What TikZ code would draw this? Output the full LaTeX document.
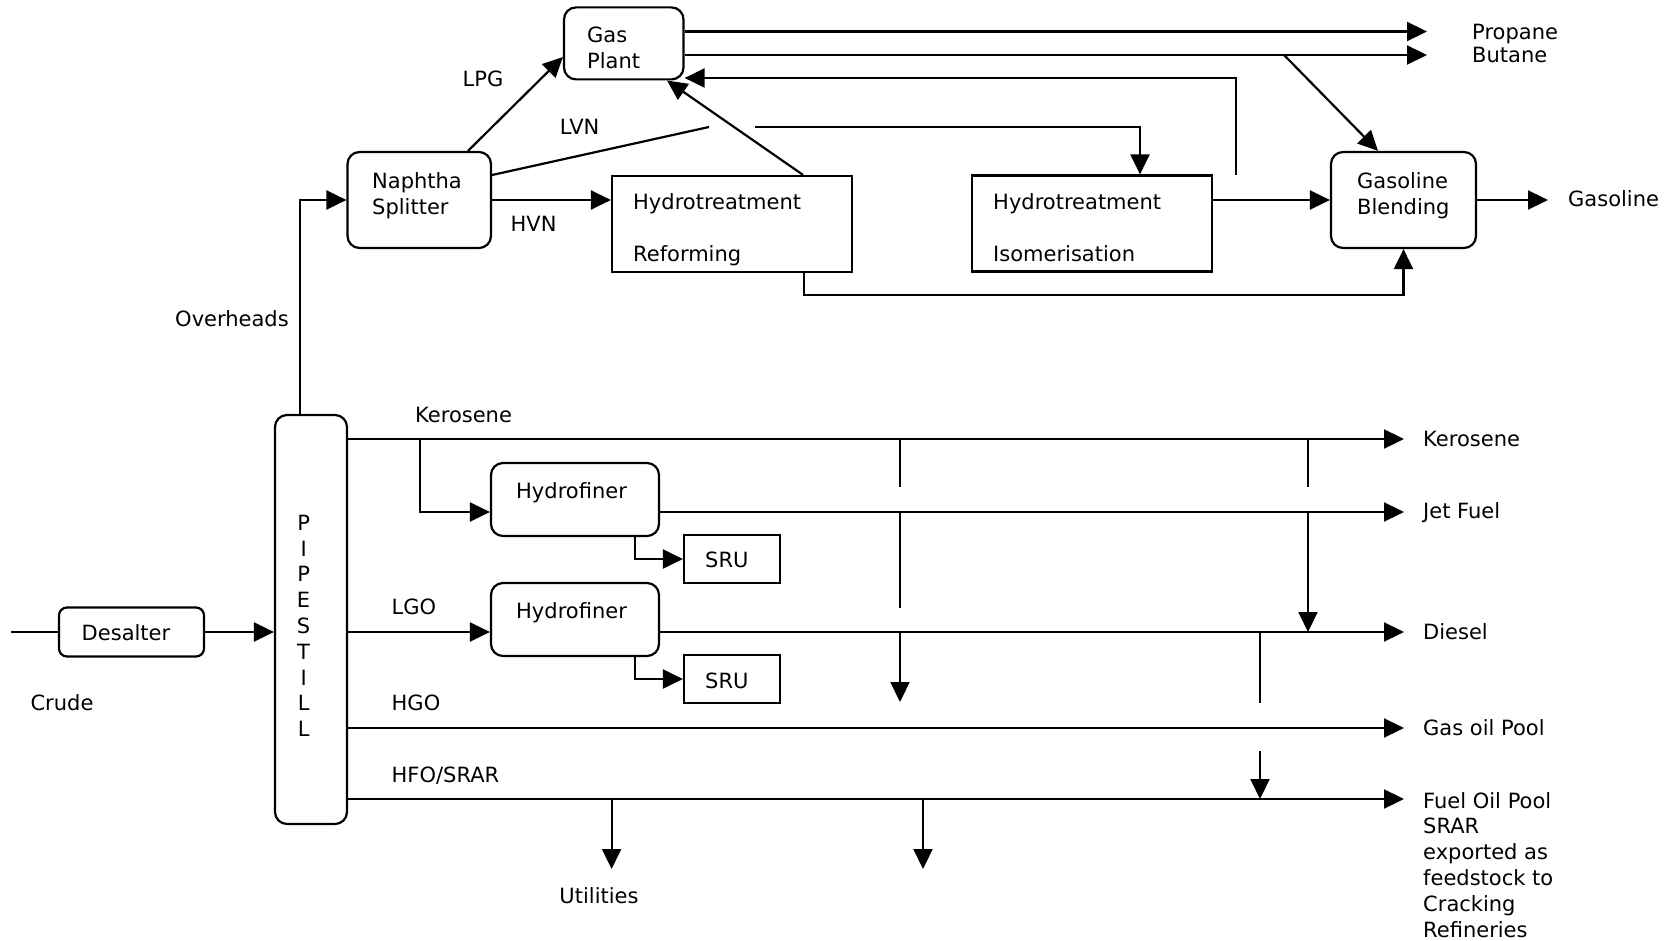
\documentclass[tikz,border=0pt]{standalone}
\usepackage{fontspec}
\setmainfont{DejaVu Sans}
\usetikzlibrary{arrows.meta}
\tikzset{
  ln/.style={line width=2.2pt},
  arr/.style={line width=2.2pt, -{Triangle[length=20pt,width=19pt]}},
  rbox/.style={draw, line width=2.2pt, rounded corners=12pt, inner sep=0pt},
  sbox/.style={draw, line width=2.2pt, inner sep=0pt},
  txt/.style={inner sep=0pt, font=\fontsize{21}{26}\selectfont},
  mtxt/.style={txt, align=left, anchor=north west},
}
\begin{document}
\begin{tikzpicture}[x=1pt,y=-1pt]
\useasboundingbox (0,0) rectangle (1668,941);
\path[fill=white] (0,0) rectangle (1668,941);

% ---------- boxes ----------
\node[rbox, minimum width=119.5pt, minimum height=72pt] (gasplant) at (623.75,43.4) {};
\node[rbox, minimum width=143.5pt, minimum height=96pt] (naphtha) at (419.25,200) {};
\node[sbox, minimum width=240pt, minimum height=96pt] (reform) at (732,224) {};
\node[sbox, minimum width=240pt, minimum height=96pt] (isom) at (1092,223.5) {};
\node[rbox, minimum width=145pt, minimum height=96pt] (gasblend) at (1403.5,200) {};
\node[rbox, minimum width=72pt, minimum height=409pt] (pipestill) at (311,619.5) {};
\node[rbox, rounded corners=8pt, minimum width=145pt, minimum height=49pt] (desalter) at (131.5,632) {};
\node[rbox, minimum width=168pt, minimum height=73pt] (hf1) at (575,499.5) {};
\node[rbox, minimum width=168pt, minimum height=73pt] (hf2) at (575,619.5) {};
\node[sbox, minimum width=96pt, minimum height=48pt] (sru1) at (732,559) {};
\node[sbox, minimum width=96pt, minimum height=48pt] (sru2) at (732,679) {};

% ---------- box texts ----------
\node[mtxt] (gasplanttxt) at (587,27) {Gas\\Plant};
\node[mtxt] (naphthatxt) at (372,172) {Naphtha\\Splitter};
\node[mtxt] (reformtxt) at (633,193) {Hydrotreatment\\[26pt]Reforming};
\node[mtxt] (isomtxt) at (993,193) {Hydrotreatment\\[26pt]Isomerisation};
\node[mtxt] (gasblendtxt) at (1357,172) {Gasoline\\Blending};
\node[txt, align=center, anchor=north, font=\fontsize{21}{25.8}\selectfont] (pipestilltxt) at (303.6,514.7) {P\\I\\P\\E\\S\\T\\I\\L\\L};
\node[txt, anchor=base] (desaltertxt) at (126,640.5) {Desalter};
\node[txt, anchor=base west] (hf1txt) at (516,498.5) {Hydrofiner};
\node[txt, anchor=base west] (hf2txt) at (516,618.5) {Hydrofiner};
\node[txt, anchor=base west] (sru1txt) at (705,567.5) {SRU};
\node[txt, anchor=base west] (sru2txt) at (705,688.5) {SRU};

% ---------- stream labels ----------
\node[txt, anchor=base] (lpg) at (483,86.5) {LPG};
\node[txt, anchor=base] (lvn) at (579.6,134.5) {LVN};
\node[txt, anchor=base] (hvn) at (533.6,231.5) {HVN};
\node[txt, anchor=base] (overheads) at (232,326.5) {Overheads};
\node[txt, anchor=base west] (kerlab) at (415,422.5) {Kerosene};
\node[txt, anchor=base west] (lgolab) at (391.5,614.5) {LGO};
\node[txt, anchor=base west] (hgolab) at (391.5,710.5) {HGO};
\node[txt, anchor=base west] (hfolab) at (391.5,782.5) {HFO/SRAR};
\node[txt, anchor=base] (crude) at (62,710.5) {Crude};
\node[txt, anchor=base] (utilities) at (599,903.5) {Utilities};
\node[txt, anchor=base west] (propane) at (1472,39.5) {Propane};
\node[txt, anchor=base west] (butane) at (1472,62.5) {Butane};
\node[txt, anchor=base west] (gasoline) at (1568,206.5) {Gasoline};
\node[txt, anchor=base west] (kerout) at (1423,446.5) {Kerosene};
\node[txt, anchor=base west] (jetout) at (1423,518.5) {Jet Fuel};
\node[txt, anchor=base west] (dieout) at (1423,639.5) {Diesel};
\node[txt, anchor=base west] (goout) at (1423,735.5) {Gas oil Pool};
\node[mtxt, font=\fontsize{21}{25.8}\selectfont] (foout) at (1423,792) {Fuel Oil Pool\\SRAR\\exported as\\feedstock to\\Cracking\\Refineries};

% ---------- coordinates ----------
\coordinate (crudeStart) at (11,632);
\coordinate (ohx) at (300,200);
\coordinate (lvnA) at (709,127);
\coordinate (lvnB) at (755,127);
\coordinate (rb) at (804,295);
\coordinate (ret) at (1236,175);
\coordinate (propEnd) at (1427,31.5);
\coordinate (butEnd) at (1427,55);
\coordinate (bb) at (1284,55);
\coordinate (gasEnd) at (1548,200);
\coordinate (kerEnd) at (1404,439);
\coordinate (kb) at (420,439);
\coordinate (jetEnd) at (1404,512);
\coordinate (dieEnd) at (1404,632);
\coordinate (goEnd) at (1404,728);
\coordinate (foEnd) at (1404,799);
\coordinate (va1) at (900,439); \coordinate (va2) at (900,487);
\coordinate (va3) at (900,512); \coordinate (va4) at (900,608);
\coordinate (va5) at (900,632); \coordinate (va6) at (900,702);
\coordinate (vb1) at (1308,439); \coordinate (vb2) at (1308,487);
\coordinate (vb3) at (1308,512); \coordinate (vb4) at (1308,632);
\coordinate (vc1) at (1260,632); \coordinate (vc2) at (1260,703);
\coordinate (vc3) at (1260,751); \coordinate (vc4) at (1260,799);
\coordinate (vu1) at (611.6,799); \coordinate (vu2) at (611.6,869);
\coordinate (vd1) at (923,799); \coordinate (vd2) at (923,869);

% ---------- connectors: upper ----------
\draw[ln] (crudeStart) -- (desalter.west);
\draw[arr] (desalter.east) -- (desalter.east -| pipestill.west);
\draw[arr] (pipestill.north -| ohx) |- (naphtha.west);
\draw[arr] (naphtha.north -| 468,0) -- (gasplant.west |- 0,57);
\draw[ln] (naphtha.east |- 0,175) -- (lvnA);
\draw[arr] (lvnB) -| (isom.north -| 1140,0);
\draw[arr] (naphtha.east) -- (naphtha.east -| reform.west);
\draw[arr] (reform.north -| 803,0) -- (gasplant.south -| 667,0);
\draw[arr] (reform.south -| rb) -- (rb) -| (gasblend.south);
\draw[arr] (isom.east |- gasblend.west) -- (gasblend.west);
\draw[arr] (ret) |- (gasplant.east |- 0,78);
\draw[arr] (gasplant.east |- propEnd) -- (propEnd);
\draw[arr] (gasplant.east |- butEnd) -- (butEnd);
\draw[arr] (bb) -- (gasblend.north -| 1378,0);
\draw[arr] (gasblend.east) -- (gasEnd);

% ---------- connectors: lower ----------
\draw[arr] (pipestill.east |- kerEnd) -- (kerEnd);
\draw[arr] (kb) |- (hf1.west |- jetEnd);
\draw[arr] (hf1.east |- jetEnd) -- (jetEnd);
\draw[arr] (hf1.south -| 635,0) |- (sru1.west);
\draw[arr] (pipestill.east |- dieEnd) -- (hf2.west |- dieEnd);
\draw[arr] (hf2.east |- dieEnd) -- (dieEnd);
\draw[arr] (hf2.south -| 635,0) |- (sru2.west);
\draw[arr] (pipestill.east |- goEnd) -- (goEnd);
\draw[arr] (pipestill.east |- foEnd) -- (foEnd);

\draw[ln] (va1) -- (va2);
\draw[ln] (va3) -- (va4);
\draw[arr] (va5) -- (va6);
\draw[ln] (vb1) -- (vb2);
\draw[arr] (vb3) -- (vb4);
\draw[ln] (vc1) -- (vc2);
\draw[arr] (vc3) -- (vc4);
\draw[arr] (vu1) -- (vu2);
\draw[arr] (vd1) -- (vd2);
\end{tikzpicture}
\end{document}
